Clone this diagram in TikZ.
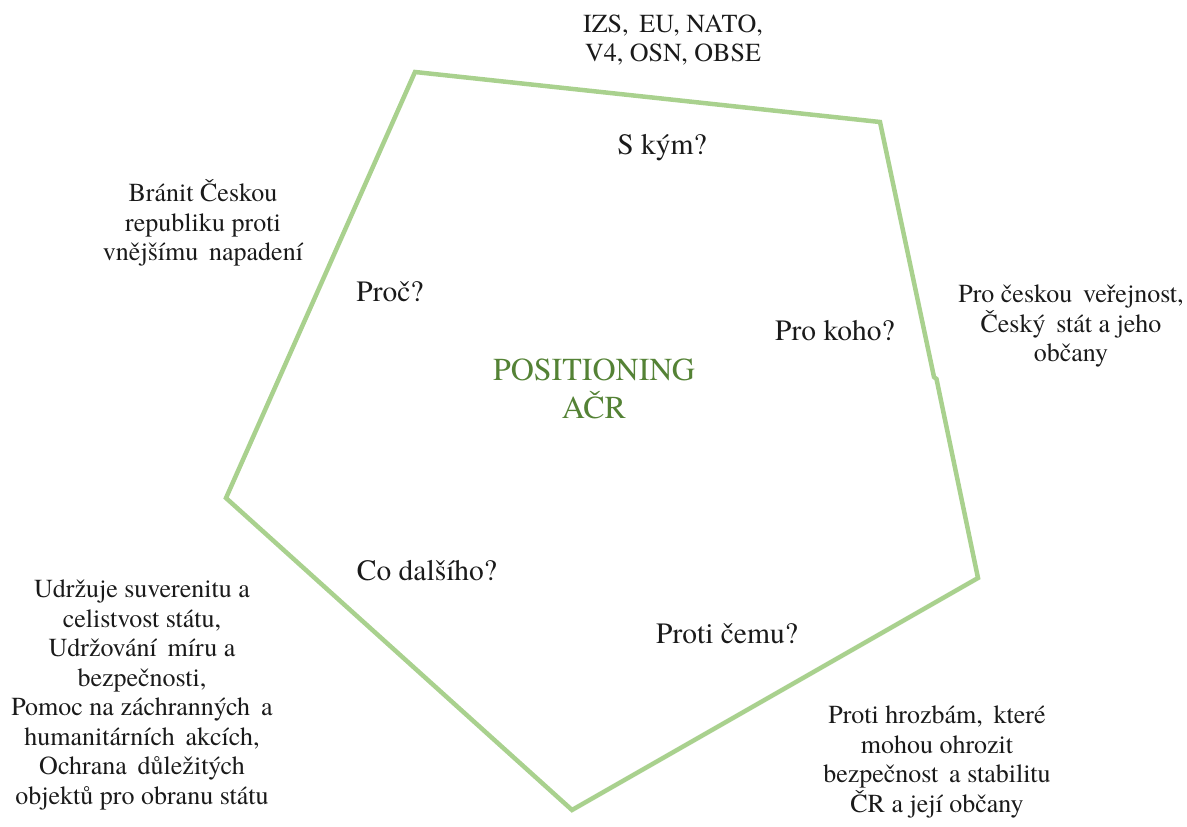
\documentclass[tikz,border=0pt]{standalone}
\usepackage{fontspec}
\setmainfont{TeX Gyre Termes}
\definecolor{edgegreen}{HTML}{A9D18E}
\definecolor{titlegreen}{HTML}{548235}
\definecolor{ink}{HTML}{1A1A1A}
\begin{document}
\begin{tikzpicture}[x=1pt,y=-1pt,
  side/.style={align=center,text=ink,inner sep=0pt,font=\fontsize{26}{29.5}\selectfont},
  question/.style={text=ink,inner sep=0pt,font=\fontsize{29.5}{34}\selectfont},
  title/.style={align=center,text=titlegreen,inner sep=0pt,font=\fontsize{32}{38}\selectfont},
  frame/.style={draw=edgegreen,line width=4.5pt,line join=miter}]
\useasboundingbox (0,0) rectangle (1187,827);

% corners of the pentagon
\coordinate (v1) at (415,72);
\coordinate (v2) at (880,122);
\coordinate (k1) at (934,377);
\coordinate (k2) at (936.5,379);
\coordinate (v3) at (978,578);
\coordinate (v4) at (572,810);
\coordinate (v5) at (226,498);

\draw[frame] (v1) -- (v2) -- (k1) -- (k2) -- (v3) -- (v4) -- (v5) -- cycle;

% centre
\node[title] (center) at (594,389) {POSITIONING\\AČR};

% questions inside
\node[question] (skym) at (662,148) {S kým?};
\node[question] (proc) at (390,292) {Proč?};
\node[question] (prokoho) at (835,331) {Pro koho?};
\node[question] (codal) at (427,571) {Co dalšího?};
\node[question] (proticemu) at (727,634) {Proti čemu?};

% answers outside
\node[side] (org) at (673,40) {IZS,\, EU, NATO,\\V4, OSN, OBSE};
\node[side] (branit) at (203,223) {Bránit Českou\\republiku proti\\vnějšímu\, napadení};
\node[side] (verejnost) at (1071,326) {Pro českou\, veřejnost,\\Český\, stát a jeho\\občany};
\node[side] (udrzuje) at (142,695) {Udržuje suverenitu a\\celistvost státu,\\Udržování\, míru a\\bezpečnosti,\\Pomoc na záchranných\, a\\humanitárních\, akcích,\\Ochrana\, důležitých\\objektů pro obranu státu};
\node[side] (hrozby) at (937,762) {Proti hrozbám,\, které\\mohou ohrozit\\bezpečnost\, a stabilitu\\ČR a její občany};
\end{tikzpicture}
\end{document}
